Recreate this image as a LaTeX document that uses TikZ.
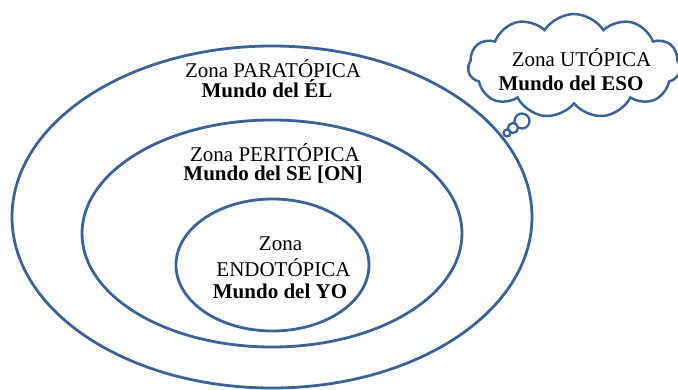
\documentclass[tikz,border=0pt]{standalone}
\usepackage{fontspec}
\setmainfont{Liberation Serif}
\usetikzlibrary{shapes.symbols}
\definecolor{ringblue}{HTML}{3A6497}
\tikzset{
  ring/.style={draw=ringblue, line width=2.8pt},
  bubble/.style={draw=ringblue, line width=2.3pt, fill=white},
  txt/.style={anchor=base, inner sep=0pt, font=\fontsize{21}{22}\selectfont},
  btxt/.style={txt, font=\fontsize{21}{22}\selectfont\bfseries},
}
\begin{document}
\begin{tikzpicture}[x=1pt,y=-1pt]
\useasboundingbox (0,0) rectangle (678,390);
% zones
\draw[ring] (272,217) ellipse [x radius=260pt, y radius=171pt];
\draw[ring] (272,233.5) ellipse [x radius=190pt, y radius=113.5pt];
\draw[ring] (272.5,265) ellipse [x radius=96.5pt, y radius=66pt];
% thought cloud
\node[cloud, cloud puffs=11, cloud puff arc=115, aspect=2.1, draw=ringblue, line width=2.5pt, fill=white,
      minimum width=212pt, minimum height=104pt, inner sep=0pt] (cloud) at (574,66) {};
\node[bubble, circle, minimum size=15pt, inner sep=0pt] (b1) at (522,121) {};
\node[bubble, circle, minimum size=10pt, inner sep=0pt] (b2) at (513,128) {};
\node[bubble, circle, minimum size=7pt, inner sep=0pt] (b3) at (507,133) {};
% labels
\node[txt]  (para1) at (273,78) {Zona PARATÓPICA};
\node[btxt] (para2) at (267,98) {Mundo del ÉL};
\node[txt]  (peri1) at (275,162) {Zona PERITÓPICA};
\node[btxt] (peri2) at (273,181) {Mundo del SE [ON]};
\node[txt]  (endo1) at (280.5,251) {Zona};
\node[txt]  (endo2) at (283.5,277) {ENDOTÓPICA};
\node[btxt] (endo3) at (280,299) {Mundo del YO};
\node[txt]  (uto1) at (581.5,67) {Zona UTÓPICA};
\node[btxt] (uto2) at (571,91) {Mundo del ESO};
\end{tikzpicture}
\end{document}
